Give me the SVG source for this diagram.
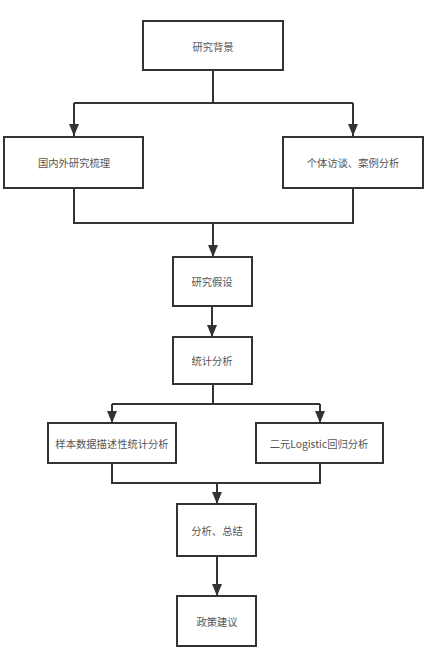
<svg xmlns="http://www.w3.org/2000/svg" width="432" height="660" viewBox="0 0 432 660">
<style>
.box{fill:#fff;stroke:#333;stroke-width:2}
.lbl{font-family:"Noto Sans CJK SC","Liberation Sans",sans-serif;font-size:10.3px;fill:#555;text-anchor:middle;dominant-baseline:central}
.ln{fill:none;stroke:#333;stroke-width:2}
</style>
<defs>
<marker id="arr" markerUnits="userSpaceOnUse" markerWidth="12" markerHeight="10" viewBox="0 0 12 10" refX="12" refY="5" orient="auto">
<path d="M0,0 L12,5 L0,10 Z" fill="#333"/>
</marker>
</defs>
<rect width="432" height="660" fill="#fff"/>
<g id="connectors">
<path class="ln" d="M213,70 V103"/>
<path class="ln" d="M74,103 H353"/>
<path class="ln" d="M74,103 V136" marker-end="url(#arr)"/>
<path class="ln" d="M353,103 V136" marker-end="url(#arr)"/>
<path class="ln" d="M74,188 V223 H353 V188"/>
<path class="ln" d="M213,223 V257" marker-end="url(#arr)"/>
<path class="ln" d="M212,306 V337" marker-end="url(#arr)"/>
<path class="ln" d="M213,384 V404"/>
<path class="ln" d="M112,404 H320"/>
<path class="ln" d="M112,404 V423" marker-end="url(#arr)"/>
<path class="ln" d="M320,404 V423" marker-end="url(#arr)"/>
<path class="ln" d="M112,463 V483 H320 V463"/>
<path class="ln" d="M217,483 V504" marker-end="url(#arr)"/>
<path class="ln" d="M217,556 V596" marker-end="url(#arr)"/>
</g>
<g id="n1"><rect class="box" x="143" y="21" width="140" height="49"/><text class="lbl" x="213" y="46">研究背景</text></g>
<g id="n2"><rect class="box" x="4" y="137" width="139" height="51"/><text class="lbl" x="74" y="162">国内外研究梳理</text></g>
<g id="n3"><rect class="box" x="283" y="137" width="140" height="51"/><text class="lbl" x="353" y="162">个体访谈、案例分析</text></g>
<g id="n4"><rect class="box" x="173" y="257" width="79" height="49"/><text class="lbl" x="212" y="281">研究假设</text></g>
<g id="n5"><rect class="box" x="173" y="337" width="79" height="47"/><text class="lbl" x="212" y="360">统计分析</text></g>
<g id="n6"><rect class="box" x="48" y="423" width="128" height="40"/><text class="lbl" x="112" y="443">样本数据描述性统计分析</text></g>
<g id="n7"><rect class="box" x="256" y="423" width="127" height="40"/><text class="lbl" x="319" y="443">二元Logistic回归分析</text></g>
<g id="n8"><rect class="box" x="177" y="504" width="79" height="52"/><text class="lbl" x="217" y="530">分析、总结</text></g>
<g id="n9"><rect class="box" x="177" y="596" width="79" height="50"/><text class="lbl" x="217" y="621">政策建议</text></g>
</svg>
